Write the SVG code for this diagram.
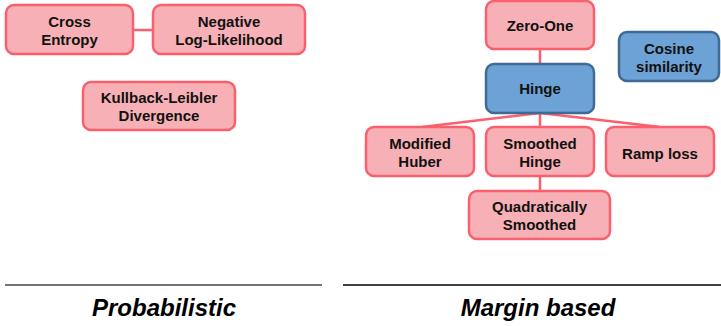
<svg xmlns="http://www.w3.org/2000/svg" width="721" height="326" viewBox="0 0 721 326">
<style>
.p{fill:#F7B1B6;stroke:#FA5F6E;stroke-width:2.5}
.b{fill:#6CA2D6;stroke:#3F6A95;stroke-width:2.5}
.t{font-family:"Liberation Sans",Arial,sans-serif;font-weight:bold;font-size:15px;fill:#111;text-anchor:middle}
.c{stroke:#FA5F6E;stroke-width:2.5;fill:none}
.h{font-family:"Liberation Sans",Arial,sans-serif;font-weight:bold;font-style:italic;font-size:24px;fill:#000;text-anchor:middle}
</style>
<g id="connectors">
<line class="c" x1="133" y1="30" x2="153" y2="30"/>
<line class="c" x1="540" y1="49" x2="540" y2="64"/>
<line class="c" x1="540" y1="113" x2="540" y2="127"/>
<line class="c" x1="540" y1="113" x2="422" y2="127"/>
<line class="c" x1="540" y1="113" x2="660" y2="127"/>
<line class="c" x1="540" y1="176" x2="540" y2="191"/>
</g>
<g id="cross-entropy"><rect class="p" x="6" y="5" width="127" height="49" rx="8"/><text class="t" x="69.5" y="27">Cross</text><text class="t" x="69.5" y="45">Entropy</text></g>
<g id="nll"><rect class="p" x="153" y="5" width="152" height="49" rx="8"/><text class="t" x="229" y="27">Negative</text><text class="t" x="229" y="45">Log-Likelihood</text></g>
<g id="kl"><rect class="p" x="83" y="82" width="152" height="48" rx="8"/><text class="t" x="159" y="103">Kullback-Leibler</text><text class="t" x="159" y="121">Divergence</text></g>
<g id="zero-one"><rect class="p" x="486" y="1" width="108" height="48" rx="8"/><text class="t" x="540" y="30.5">Zero-One</text></g>
<g id="hinge"><rect class="b" x="486" y="64" width="108" height="49" rx="8"/><text class="t" x="540" y="94">Hinge</text></g>
<g id="cosine"><rect class="b" x="619" y="32" width="100" height="49" rx="8"/><text class="t" x="669" y="54">Cosine</text><text class="t" x="669" y="72">similarity</text></g>
<g id="modified-huber"><rect class="p" x="366" y="127" width="108" height="49" rx="8"/><text class="t" x="420" y="149">Modified</text><text class="t" x="420" y="167">Huber</text></g>
<g id="smoothed-hinge"><rect class="p" x="486" y="127" width="108" height="49" rx="8"/><text class="t" x="540" y="149">Smoothed</text><text class="t" x="540" y="167">Hinge</text></g>
<g id="ramp-loss"><rect class="p" x="606" y="127" width="108" height="49" rx="8"/><text class="t" x="660" y="159">Ramp loss</text></g>
<g id="quadratically-smoothed"><rect class="p" x="469" y="191" width="141" height="48" rx="8"/><text class="t" x="539.5" y="212">Quadratically</text><text class="t" x="539.5" y="230">Smoothed</text></g>
<g id="labels">
<line x1="5" y1="285" x2="322" y2="285" stroke="#444" stroke-width="1.5"/>
<line x1="343" y1="285" x2="721" y2="285" stroke="#000" stroke-width="1.5"/>
<text class="h" x="164" y="316">Probabilistic</text>
<text class="h" x="538" y="316">Margin based</text>
</g>
</svg>
